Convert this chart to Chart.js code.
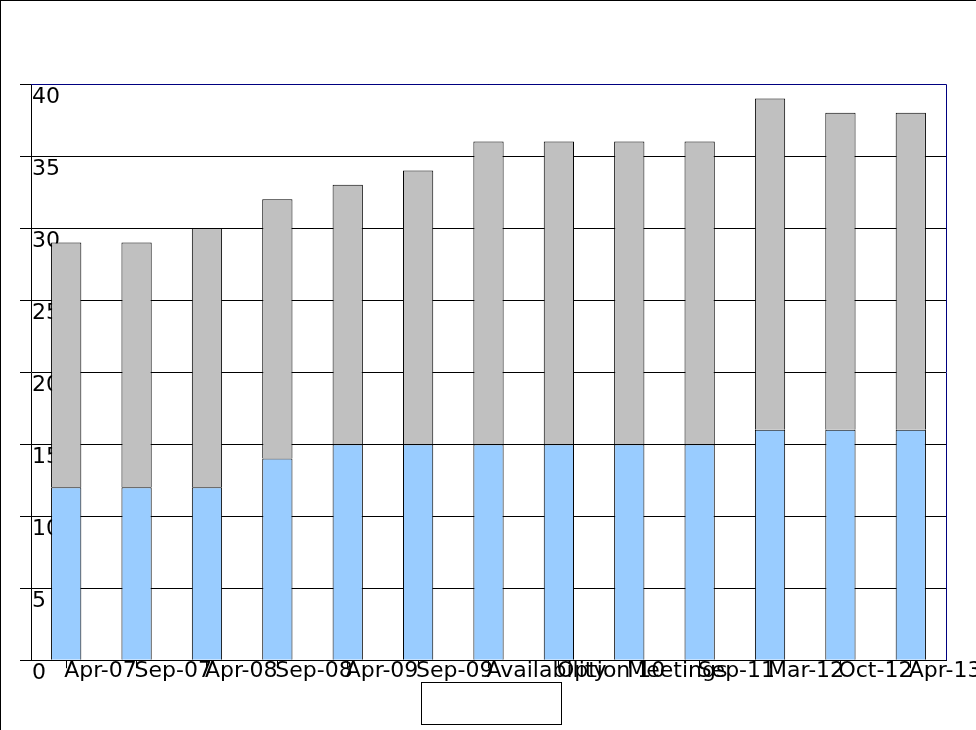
<!DOCTYPE html>
<html>
<head>
<meta charset="utf-8">
<script src="https://cdn.jsdelivr.net/npm/chart.js@4"></script>
<style>
  html, body { margin: 0; padding: 0; background: #fff; overflow: hidden; }
  #wrap { position: absolute; left: 0; top: 0; width: 976px; height: 730px; overflow: hidden; }
  #myChart { position: absolute; left: 0; top: 0; }
  #frame { position: absolute; left: 0; top: 0; width: 976px; height: 730px; box-sizing: border-box;
           border-top: 1px solid #000; border-left: 1px solid #000; pointer-events: none; }
  #legendBox { position: absolute; left: 421px; top: 682px; width: 141px; height: 43px; box-sizing: border-box;
               border: 1px solid #000; background: #fff; }
</style>
</head>
<body>
<div id="wrap">
  <canvas id="myChart" width="1000" height="730"></canvas>
  <div id="legendBox"></div>
  <div id="frame"></div>
</div>
<script>
// categories along the bottom
const labels = ['Apr-07', 'Sep-07', 'Apr-08', 'Sep-08', 'Apr-09', 'Sep-09',
  'Availability', 'Option 10', 'Meetings', 'Sep-11', 'Mar-12', 'Oct-12', 'Apr-13'];

// lower (blue) part of each bar
const blueValues = [12, 12, 12, 14, 15, 15, 15, 15, 15, 15, 16, 16, 16];
// upper (grey) part stacked on top
const greyValues = [17, 17, 18, 18, 18, 19, 21, 21, 21, 21, 23, 22, 22];

const yMin = 0;
const yMax = 40;
const yStep = 5;

const labelFont = { family: 'DejaVu Sans', size: 22 };

// blue frame on top and right of the plot
const plotFrame = {
  id: 'plotFrame',
  afterDraw(chart) {
    const a = chart.chartArea;
    const ctx = chart.ctx;
    ctx.save();
    ctx.strokeStyle = '#000080';
    ctx.lineWidth = 1;
    ctx.beginPath();
    ctx.moveTo(a.left, a.top + 0.5);
    ctx.lineTo(a.right + 0.5, a.top + 0.5);
    ctx.lineTo(a.right + 0.5, a.bottom);
    ctx.stroke();
    ctx.restore();
  }
};

new Chart(document.getElementById('myChart'), {
  type: 'bar',
  data: {
    labels: labels,
    datasets: [{
      label: 'blue',
      data: blueValues,
      backgroundColor: '#99ccff',
      borderColor: '#000',
      borderWidth: 1,
      barPercentage: 0.43,
      categoryPercentage: 1
    }, {
      label: 'grey',
      data: greyValues,
      backgroundColor: '#c0c0c0',
      borderColor: '#000',
      borderWidth: 1,
      barPercentage: 0.43,
      categoryPercentage: 1
    }]
  },
  options: {
    responsive: false,
    animation: false,
    devicePixelRatio: 1,
    layout: { padding: { left: 18, top: 84, right: 54, bottom: 29 } },
    plugins: {
      legend: { display: false },
      tooltip: { enabled: false }
    },
    scales: {
      x: {
        stacked: true,
        offset: true,
        grid: { offset: false, drawOnChartArea: false, drawTicks: true, tickLength: 8, color: '#000' },
        border: { color: '#000', width: 1 },
        ticks: {
          autoSkip: false, maxRotation: 0, minRotation: 0,
          align: 'start', padding: -10, labelOffset: -2, color: '#000', font: labelFont
        },
        // blank title only gives the label strip some room so it is not clipped
        title: { display: true, text: ' ', padding: 0, font: labelFont }
      },
      y: {
        stacked: true,
        min: yMin,
        max: yMax,
        grid: { color: '#000', tickColor: '#000', tickLength: 11 },
        border: { color: '#000', width: 1 },
        ticks: {
          stepSize: yStep, mirror: true, padding: 1, labelOffset: 13,
          color: '#000', font: labelFont
        }
      }
    }
  },
  plugins: [plotFrame]
});
</script>
</body>
</html>
